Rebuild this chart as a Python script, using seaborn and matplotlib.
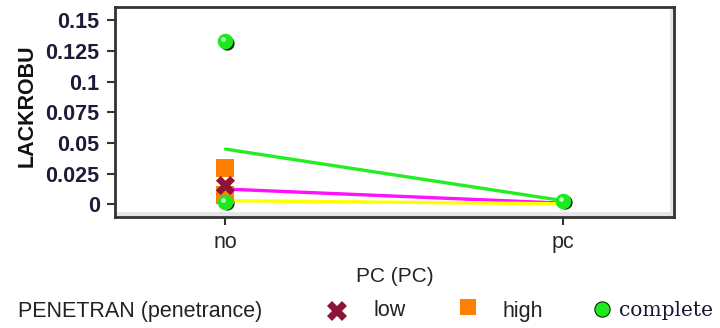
import matplotlib
matplotlib.use("Agg")
import matplotlib.pyplot as plt
import matplotlib.transforms as mtransforms
from matplotlib.lines import Line2D
from matplotlib.patches import Rectangle
import pandas as pd
import seaborn as sns

# ---- data -------------------------------------------------------------
pc_levels = ["no", "pc"]

# individual observations (PC level, LACKROBU) per penetrance group
low_pc = ["no"]
low_val = [0.016]
high_pc = ["no", "no"]
high_val = [0.030, 0.008]
complete_pc = ["no", "no", "pc"]
complete_val = [0.133, 0.002, 0.003]

# profile lines across PC levels
line_complete = [0.045, 0.003]
line_low = [0.0125, 0.001]
line_high = [0.003, 0.0005]

y_ticks = [0, 0.025, 0.05, 0.075, 0.1, 0.125, 0.15]
y_tick_labels = ["0", "0.025", "0.05", "0.075", "0.1", "0.125", "0.15"]

# ---- tidy frames --------------------------------------------------------
pos = {lvl: i for i, lvl in enumerate(pc_levels)}
points = pd.DataFrame({
    "PC": low_pc + high_pc + complete_pc,
    "LACKROBU": low_val + high_val + complete_val,
    "PENETRAN": ["low"] * len(low_val) + ["high"] * len(high_val)
                + ["complete"] * len(complete_val),
})
points["x"] = points["PC"].map(pos)

lines = pd.DataFrame({
    "x": [pos[l] for l in pc_levels] * 3,
    "LACKROBU": line_complete + line_low + line_high,
    "series": ["complete"] * 2 + ["low"] * 2 + ["high"] * 2,
})

GREEN = "#1ee81e"
ORANGE = "#ff7f00"
XRED = "#8c1438"
line_colors = {"complete": "#22ee22", "low": "#ff10ff", "high": "#ffff00"}

sns.set_theme(style="white")
plt.rcParams["font.family"] = ["Liberation Sans", "DejaVu Sans"]

fig = plt.figure(figsize=(7.2, 3.28), dpi=100)
ax = fig.add_axes([0.1597, 0.339, 0.936 - 0.1597, 0.9787 - 0.339])

# lines first, markers on top
sns.lineplot(data=lines, x="x", y="LACKROBU", hue="series",
             palette=line_colors, linewidth=2.4, legend=False, ax=ax,
             zorder=2, sort=False)

# complete: green balls with a dark shadow offset to lower-right
comp = points[points["PENETRAN"] == "complete"]
shadow = mtransforms.offset_copy(ax.transData, fig=fig, x=1.5, y=-1.5, units="dots")
ax.scatter(comp["x"], comp["LACKROBU"], s=105, color="#0b2a0b",
           transform=shadow, zorder=3, linewidths=0)
high = points[points["PENETRAN"] == "high"]
sns.scatterplot(data=high, x="x", y="LACKROBU", marker="s", s=150,
                color=ORANGE, linewidth=0, ax=ax, zorder=4, legend=False)
low = points[points["PENETRAN"] == "low"]
sns.scatterplot(data=low, x="x", y="LACKROBU", marker="X", s=190,
                color=XRED, linewidth=0, ax=ax, zorder=5, legend=False)
sns.scatterplot(data=comp, x="x", y="LACKROBU", marker="o", s=125,
                color=GREEN, linewidth=0, ax=ax, zorder=6, legend=False)
hl = mtransforms.offset_copy(ax.transData, fig=fig, x=-2.0, y=2.0, units="dots")
ax.scatter(comp["x"], comp["LACKROBU"], s=12, color="#b8ffb8",
           transform=hl, zorder=7, linewidths=0)

# axes
ax.set_xlim(-0.327, 1.327)
ax.set_ylim(-0.0101, 0.1607)
ax.set_xticks(range(len(pc_levels)))
ax.set_xticklabels(pc_levels, fontsize=15.5)
ax.set_yticks(y_ticks)
ax.set_yticklabels(y_tick_labels, fontsize=15.5, fontweight="bold", color="#1c1c3a")
ax.set_xlabel("PC (PC)", fontsize=15, labelpad=10, color="#222222")
ax.set_ylabel("LACKROBU", fontsize=15.5, fontweight="bold", color="#111111")
ax.yaxis.set_label_coords(-0.138, 0.53)
ax.tick_params(axis="both", which="both", direction="out", length=6,
               width=1.5, color="#333333", left=True, bottom=True, pad=5)
for sp in ax.spines.values():
    sp.set_color("#333333")
    sp.set_linewidth(2.0)

# subtle inner shading along bottom and right edges of the frame
ax.add_patch(Rectangle((0, 0), 1, 0.022, transform=ax.transAxes,
                       color="#e6e6e6", zorder=0, linewidth=0))
ax.add_patch(Rectangle((0.993, 0), 0.007, 1, transform=ax.transAxes,
                       color="#e6e6e6", zorder=0, linewidth=0))

# legend row along the bottom
ly = 1 - 311 / 328
fig.text(18 / 720, ly, "PENETRAN (penetrance)", fontsize=15.5,
         va="center", ha="left", color="#222222")
fig.add_artist(Line2D([337 / 720], [ly], marker="X", markersize=15,
                      color=XRED, linestyle="none", markeredgewidth=0,
                      transform=fig.transFigure))
fig.text(373 / 720, ly, "low", fontsize=15.5, va="center", ha="left",
         color="#222222")
fig.add_artist(Line2D([468 / 720], [1 - 307 / 328], marker="s", markersize=12,
                      color=ORANGE, linestyle="none", markeredgewidth=0,
                      transform=fig.transFigure))
fig.text(502 / 720, ly, "high", fontsize=15.5, va="center", ha="left",
         color="#222222")
fig.add_artist(Line2D([602 / 720], [1 - 309 / 328], marker="o", markersize=11,
                      color=GREEN, linestyle="none", markeredgewidth=0.8,
                      markeredgecolor="#0b2a0b", transform=fig.transFigure))
fig.text(619 / 720, ly, "complete", fontsize=14.5, va="center", ha="left",
         family=["DejaVu Serif"], color="#151530")

fig.savefig("out.png", dpi=100)
